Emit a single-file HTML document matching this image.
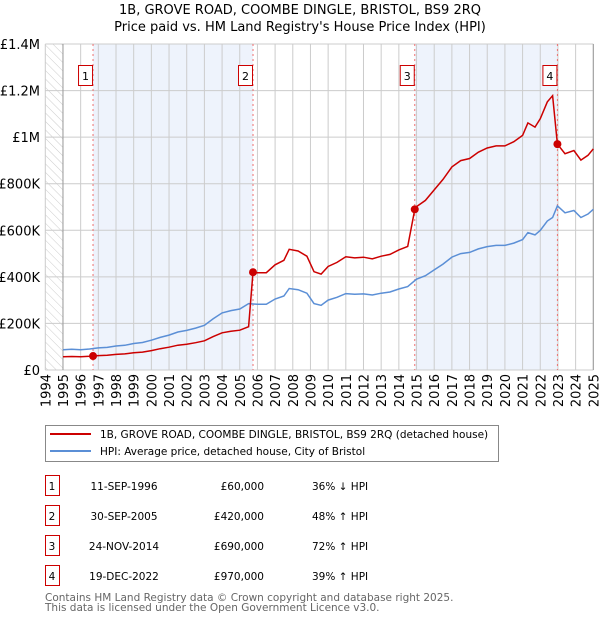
<!DOCTYPE html>
<html><head><meta charset="utf-8"><style>
body{margin:0;background:#fff;font-family:"DejaVu Sans","Liberation Sans",sans-serif;}
svg text{font-family:"DejaVu Sans","Liberation Sans",sans-serif;}
</style></head><body>
<svg id="c" width="600" height="620" xmlns="http://www.w3.org/2000/svg">
<defs><pattern id="hatch" width="6" height="6" patternUnits="userSpaceOnUse" patternTransform="rotate(-45)"><line x1="0" y1="0" x2="0" y2="6" stroke="#ccc" stroke-width="1"/></pattern></defs>
<text x="300" y="14" text-anchor="middle" font-size="13">1B, GROVE ROAD, COOMBE DINGLE, BRISTOL, BS9 2RQ</text>
<text x="300" y="31" text-anchor="middle" font-size="13">Price paid vs. HM Land Registry's House Price Index (HPI)</text>
<g id="plot"></g>
<g>
<rect x="45.5" y="425.5" width="453" height="36" fill="#fff" stroke="#888"/>
<line x1="50" y1="434" x2="91" y2="434" stroke="#cc0000" stroke-width="2"/>
<text x="100" y="438" font-size="10.5">1B, GROVE ROAD, COOMBE DINGLE, BRISTOL, BS9 2RQ (detached house)</text>
<line x1="50" y1="451" x2="91" y2="451" stroke="#5b8fd6" stroke-width="2"/>
<text x="100" y="455" font-size="10.5">HPI: Average price, detached house, City of Bristol</text>
</g>
<g id="table" font-size="10.5"></g>
<text x="45" y="601" font-size="10.5" fill="#666">Contains HM Land Registry data © Crown copyright and database right 2025.</text>
<text x="45" y="611" font-size="10.5" fill="#666">This data is licensed under the Open Government Licence v3.0.</text>
</svg>
<script>
const hpiYears=[1995,1995.5,1996,1996.5,1997,1997.5,1998,1998.5,1999,1999.5,2000,2000.5,2001,2001.5,2002,2002.5,2003,2003.5,2004,2004.5,2005,2005.5,2006,2006.5,2007,2007.5,2007.8,2008.3,2008.8,2009.2,2009.6,2010,2010.5,2011,2011.5,2012,2012.5,2013,2013.5,2014,2014.5,2015,2015.5,2016,2016.5,2017,2017.5,2018,2018.5,2019,2019.5,2020,2020.5,2021,2021.3,2021.7,2022,2022.4,2022.7,2022.97,2023.4,2023.9,2024.3,2024.7,2025];
const hpiValues=[87,89,87,90,95,97,103,106,114,118,128,140,150,163,170,180,192,220,245,255,262,285,282,282,305,318,350,345,330,285,278,300,312,328,325,327,322,330,335,348,358,390,405,430,455,485,500,505,520,530,535,535,545,560,590,580,600,640,655,705,675,685,655,670,690];
const saleDates=[1996.7,2005.75,2014.9,2022.97];
const salePrices=[60000,420000,690000,970000];
const saleLabels=["11-SEP-1996","30-SEP-2005","24-NOV-2014","19-DEC-2022"];
const salePriceText=["£60,000","£420,000","£690,000","£970,000"];
const saleHpiText=["36% ↓ HPI","48% ↑ HPI","72% ↑ HPI","39% ↑ HPI"];
const yTicks=[0,200000,400000,600000,800000,1000000,1200000,1400000];
const yTickLabels=["£0","£200K","£400K","£600K","£800K","£1M","£1.2M","£1.4M"];
const xTicks=[];for(let y=1994;y<=2025;y++)xTicks.push(y);

const NS="http://www.w3.org/2000/svg";
const X0=45.3,X1=593.3,Y0=370,Y1=44;
const x=t=>X0+(t-1994)/(2025-1994)*(X1-X0);
const y=v=>Y0-v/1400000*(Y0-Y1);
const plot=document.getElementById('plot');
function mk(tag,attrs,parent){const e=document.createElementNS(NS,tag);for(const k in attrs)e.setAttribute(k,attrs[k]);(parent||plot).appendChild(e);return e;}
function hpiAt(t){if(t<=hpiYears[0])return hpiValues[0];for(let i=1;i<hpiYears.length;i++){if(t<=hpiYears[i]){const f=(t-hpiYears[i-1])/(hpiYears[i]-hpiYears[i-1]);return hpiValues[i-1]+f*(hpiValues[i]-hpiValues[i-1]);}}return hpiValues[hpiValues.length-1];}

[[0,1],[2,3]].forEach((p,i)=>{const r=mk('rect',{x:x(saleDates[p[0]]),y:Y1,width:x(saleDates[p[1]])-x(saleDates[p[0]]),height:Y0-Y1,fill:'#eef3fc'});

});
let h=mk('rect',{x:X0,y:Y1,width:x(1995)-X0,height:Y0-Y1,fill:'url(#hatch)'});


xTicks.forEach(t=>{const l=mk('line',{x1:x(t),x2:x(t),y1:Y1,y2:Y0,stroke:'#ccc','stroke-width':1});


const tx=mk('text',{x:0,y:0,'font-size':13,'text-anchor':'end',transform:`translate(${x(t)+5},${Y0+4}) rotate(-90)`});tx.textContent=t;

});
yTicks.forEach((v,i)=>{const l=mk('line',{x1:X0,x2:X1,y1:y(v),y2:y(v),stroke:'#ccc','stroke-width':1});


const tx=mk('text',{x:40,y:y(v)+5,'font-size':13,'text-anchor':'end'});tx.textContent=yTickLabels[i];

});
const ax=mk('line',{x1:x(1995),x2:x(1995),y1:Y1,y2:Y0,stroke:'#999'});


const ax2=mk('line',{x1:X1,x2:X1,y1:Y1,y2:Y0,stroke:'#999'});


saleDates.forEach((d,i)=>{const l=mk('line',{x1:x(d),x2:x(d),y1:Y1,y2:Y0,stroke:'#f07070','stroke-dasharray':'2,3'});


const b=mk('rect',{x:x(d)-14.5,y:65.5,width:14,height:20,fill:'#fff',stroke:'#cc0000'});


const t=mk('text',{x:x(d)-7.5,y:80,'font-size':11,'text-anchor':'middle'});t.textContent=i+1;

});
let pts=hpiYears.map((t,i)=>x(t).toFixed(1)+','+y(hpiValues[i]*1000).toFixed(1));
const hl=mk('polyline',{points:pts.join(' '),fill:'none',stroke:'#5b8fd6','stroke-width':1.5});


let times=[1995];hpiYears.forEach(t=>times.push(t));saleDates.forEach(t=>{times.push(t);times.push(t+0.0001);});times.sort((a,b)=>a-b);
let rp=[];times.forEach(t=>{let k=0;for(let i=0;i<saleDates.length;i++)if(t>=saleDates[i])k=i;
const v=salePrices[k]*hpiAt(t)/hpiAt(saleDates[k]);rp.push(x(t).toFixed(1)+','+y(v).toFixed(1));});
const rl=mk('polyline',{points:rp.join(' '),fill:'none',stroke:'#cc0000','stroke-width':1.5});


saleDates.forEach((d,i)=>{const c=mk('circle',{cx:x(d),cy:y(salePrices[i]),r:4,fill:'#cc0000'});

});
const tb=document.getElementById('table');
saleDates.forEach((d,i)=>{const yy=483+i*30;
const b=mk('rect',{x:45.5,y:yy-7.5,width:14,height:20,fill:'#fff',stroke:'#cc0000'},tb);


const cells=[[52,i+1,'middle'],[124,saleLabels[i],'middle'],[264,salePriceText[i],'end'],[312,saleHpiText[i],'start']];
cells.forEach((c,j)=>{const t=mk('text',{x:c[0],y:yy+7,'text-anchor':c[2]},tb);t.textContent=c[1];

});});
</script>
</body></html>
